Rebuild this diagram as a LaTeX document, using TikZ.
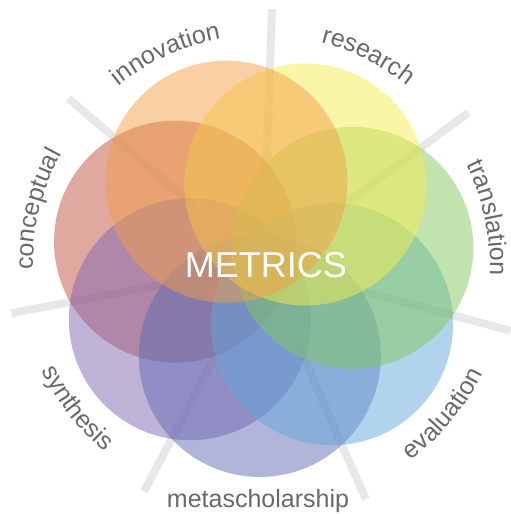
\documentclass[tikz,border=0pt]{standalone}
\usepackage{fontspec}
\setmainfont{Liberation Sans}
\usetikzlibrary{decorations.text}
\definecolor{cInno}{RGB}{243,159,71}
\definecolor{cRese}{RGB}{245,237,81}
\definecolor{cTran}{RGB}{131,201,93}
\definecolor{cEval}{RGB}{99,167,217}
\definecolor{cMeta}{RGB}{97,107,179}
\definecolor{cSynt}{RGB}{129,103,177}
\definecolor{cConc}{RGB}{193,83,65}
\definecolor{spokegray}{RGB}{232,232,234}
\definecolor{labelgray}{RGB}{105,105,105}
\newcommand{\lblfont}{\fontsize{25}{25}\selectfont}
\tikzset{
  bubble/.style={circle, inner sep=0pt, minimum size=242pt, draw=none, fill=#1, fill opacity=0.5},
  spoke/.style={draw=spokegray, line width=8pt},
  arclabel/.style={decorate, decoration={text along path, text align=center, text color=labelgray, text={|\lblfont|#1}}}
}
\begin{document}
\begin{tikzpicture}[x=1pt,y=1pt]
\useasboundingbox (-263,-249) rectangle (248,265);
% spokes
\foreach \a [count=\i] in {-66.29,-14.86,36.57,88,139.43,190.86,242.29}{
  \coordinate (si\i) at (\a:91);
  \coordinate (so\i) at (\a:256);
  \draw[spoke] (si\i) -- (so\i);
}
% circles
\node[bubble=cConc] (conc) at (165.14:91) {};
\node[bubble=cSynt] (synt) at (216.57:91) {};
\node[bubble=cMeta] (meta) at (-92:91) {};
\node[bubble=cEval] (eval) at (-40.57:91) {};
\node[bubble=cTran] (tran) at (10.86:91) {};
\node[bubble=cRese] (rese) at (62.29:91) {};
\node[bubble=cInno] (inno) at (113.71:91) {};
% labels
\path[arclabel={innovation}] (174.71:230) arc[start angle=174.71, end angle=54.71, radius=230];
\path[arclabel={research}] (123.29:230) arc[start angle=123.29, end angle=3.29, radius=230];
\path[arclabel={translation}] (71.86:227) arc[start angle=71.86, end angle=-48.14, radius=227];
\path[arclabel={conceptual}] (226.14:230) arc[start angle=226.14, end angle=106.14, radius=230];
\path[arclabel={evaluation}] (-99.57:245) arc[start angle=-99.57, end angle=20.43, radius=245];
\path[arclabel={synthesis}] (157.57:245) arc[start angle=157.57, end angle=277.57, radius=245];
\node[text=labelgray, font=\lblfont, inner sep=0pt, anchor=base] (metasch) at (-5,-242) {metascholarship};
\node[text=white, font=\fontsize{36}{36}\selectfont, inner sep=0pt] (metrics) at (3,0) {METRICS};
\end{tikzpicture}
\end{document}
